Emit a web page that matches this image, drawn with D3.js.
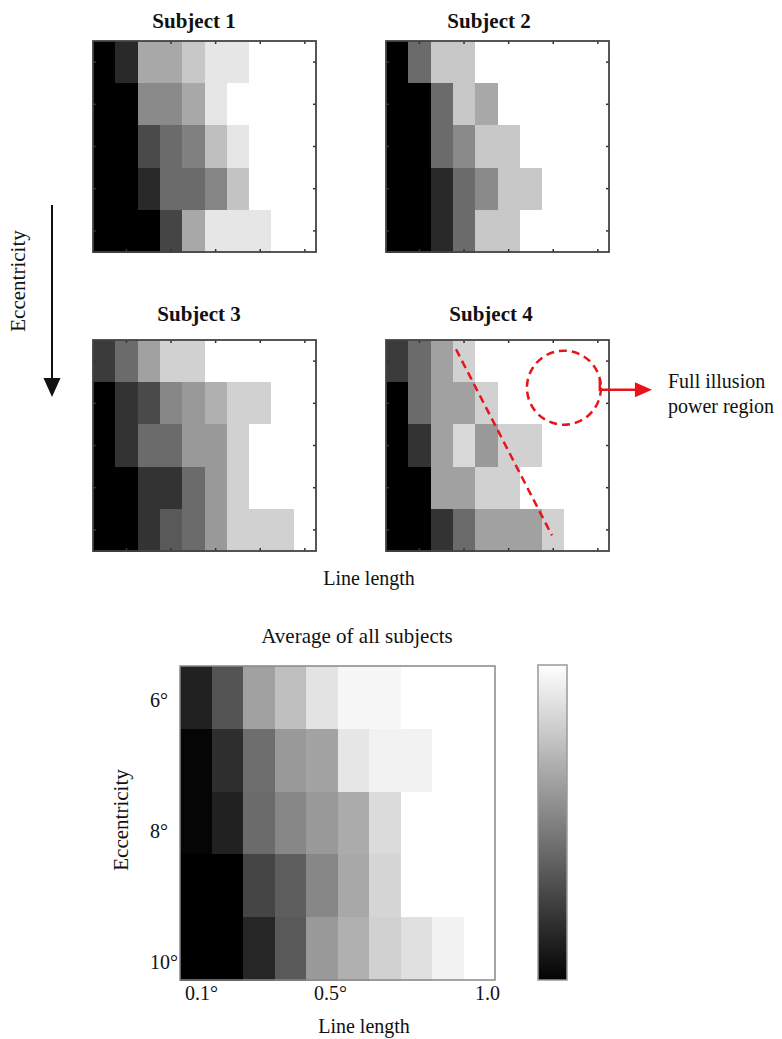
<!DOCTYPE html>
<html>
<head>
	<meta charset="utf-8">
	<script src="https://d3js.org/d3.v7.min.js"></script>
	<title>Illusion strength maps</title>
	<style>
		body { margin: 0; background: #fff; }
		text { font-family: "Liberation Serif", "Times New Roman", serif; fill: #111; }
	</style>
</head>
<body>
	<svg></svg>
	<script>
		const width = 782;
		const height = 1039;

		// grey level of each cell, 0 = black, 1 = white
		// rows = eccentricity (top to bottom), columns = line length
		const lineLengths = [0.1, 0.2, 0.3, 0.4, 0.5, 0.6, 0.7, 0.8, 0.9, 1.0];
		const eccentricities = [6, 7, 8, 9, 10];

		const subject1 = [
			[0, 0.16, 0.66, 0.66, 0.78, 0.9, 0.9, 1, 1, 1],
			[0, 0, 0.54, 0.54, 0.66, 0.9, 1, 1, 1, 1],
			[0, 0, 0.29, 0.42, 0.5, 0.75, 0.9, 1, 1, 1],
			[0, 0, 0.16, 0.42, 0.42, 0.52, 0.77, 1, 1, 1],
			[0, 0, 0, 0.27, 0.66, 0.9, 0.9, 0.9, 1, 1]
		];
		const subject2 = [
			[0, 0.42, 0.78, 0.78, 1, 1, 1, 1, 1, 1],
			[0, 0, 0.42, 0.78, 0.66, 1, 1, 1, 1, 1],
			[0, 0, 0.42, 0.54, 0.78, 0.78, 1, 1, 1, 1],
			[0, 0, 0.16, 0.42, 0.54, 0.78, 0.78, 1, 1, 1],
			[0, 0, 0.16, 0.42, 0.78, 0.78, 1, 1, 1, 1]
		];
		const subject3 = [
			[0.23, 0.42, 0.63, 0.82, 0.82, 1, 1, 1, 1, 1],
			[0, 0.2, 0.29, 0.53, 0.6, 0.69, 0.82, 0.82, 1, 1],
			[0, 0.2, 0.42, 0.42, 0.6, 0.6, 0.82, 1, 1, 1],
			[0, 0, 0.2, 0.2, 0.42, 0.6, 0.82, 1, 1, 1],
			[0, 0, 0.2, 0.35, 0.42, 0.6, 0.82, 0.82, 0.82, 1]
		];
		const subject4 = [
			[0.23, 0.42, 0.63, 0.82, 1, 1, 1, 1, 1, 1],
			[0, 0.42, 0.63, 0.63, 0.82, 1, 1, 1, 1, 1],
			[0, 0.2, 0.63, 0.85, 0.6, 0.82, 0.82, 1, 1, 1],
			[0, 0, 0.63, 0.63, 0.82, 0.82, 1, 1, 1, 1],
			[0, 0, 0.2, 0.42, 0.63, 0.63, 0.63, 0.82, 1, 1]
		];
		const averageAll = [
			[0.13, 0.33, 0.63, 0.75, 0.89, 0.97, 0.97, 1, 1, 1],
			[0.02, 0.18, 0.43, 0.6, 0.64, 0.9, 0.95, 0.95, 1, 1],
			[0.02, 0.13, 0.42, 0.53, 0.6, 0.67, 0.86, 1, 1, 1],
			[0, 0, 0.27, 0.37, 0.53, 0.66, 0.84, 1, 1, 1],
			[0, 0, 0.15, 0.35, 0.6, 0.69, 0.82, 0.88, 0.95, 1]
		];

		const subjectTitles = ["Subject 1", "Subject 2", "Subject 3", "Subject 4"];
		const subjectTickLengths = [0.2, 0.4, 0.6, 0.8, 1.0];
		const avgXTicks = [0.1, 0.5, 1.0];
		const avgXLabels = ["0.1°", "0.5°", "1.0"];
		const avgYTicks = [6, 8, 10];
		const avgYLabels = ["6°", "8°", "10°"];

		// dashed boundary + circle drawn on Subject 4 (line length / eccentricity units)
		const boundaryLine = [{len: 0.364, ecc: 5.72}, {len: 0.794, ecc: 10.13}];
		const fullPowerRegion = {len: 0.848, ecc: 6.63};

		const grey = d3.scaleLinear().domain([0, 1]).range(["#000", "#fff"]);

		const svg = d3.select("svg")
			.attr("width", width)
			.attr("height", height);

		const panelW = 223, panelH = 211;
		const panels = [
			{data: subject1, x: 93, y: 41, titleX: 194, titleY: 28},
			{data: subject2, x: 386, y: 41, titleX: 489, titleY: 28},
			{data: subject3, x: 93, y: 340, titleX: 199, titleY: 321},
			{data: subject4, x: 386, y: 340, titleX: 491, titleY: 321}
		];

		function drawCells(g, values, x, y) {
			const cells = values.flatMap((row, i) => row.map((v, j) => ({ecc: eccentricities[i], len: lineLengths[j], v})));
			g.append("g")
				.attr("shape-rendering", "crispEdges")
				.selectAll("rect")
				.data(cells)
				.join("rect")
				.attr("x", d => x(d.len))
				.attr("y", d => y(d.ecc))
				.attr("width", x.bandwidth() + 0.6)
				.attr("height", y.bandwidth() + 0.6)
				.attr("fill", d => grey(d.v));
		}

		panels.forEach((p, k) => {
			const g = svg.append("g");
			const x = d3.scaleBand().domain(lineLengths).range([p.x, p.x + panelW]);
			const y = d3.scaleBand().domain(eccentricities).range([p.y, p.y + panelH]);
			drawCells(g, p.data, x, y);

			const axes = [
				[d3.axisTop(x).tickValues(subjectTickLengths), `translate(0,${p.y})`],
				[d3.axisBottom(x).tickValues(subjectTickLengths), `translate(0,${p.y + panelH})`],
				[d3.axisLeft(y), `translate(${p.x},0)`],
				[d3.axisRight(y), `translate(${p.x + panelW},0)`]
			];
			axes.forEach(([ax, tr]) => {
				g.append("g")
					.attr("transform", tr)
					.call(ax.tickSizeInner(-3).tickSizeOuter(0).tickFormat(""))
					.call(s => s.select(".domain").remove())
					.selectAll("line").attr("stroke", "#333").attr("stroke-width", 1.5);
			});

			g.append("rect")
				.attr("x", p.x).attr("y", p.y)
				.attr("width", panelW).attr("height", panelH)
				.attr("fill", "none")
				.attr("stroke", "#444")
				.attr("stroke-width", 1.8);

			g.append("text")
				.attr("x", p.titleX).attr("y", p.titleY)
				.attr("text-anchor", "middle")
				.attr("font-weight", "bold")
				.attr("font-size", 21)
				.text(subjectTitles[k]);

			if (k === 3) {
				const xc = d3.scaleLinear().domain([0.05, 1.05]).range([p.x, p.x + panelW]);
				const yc = d3.scaleLinear().domain([5.5, 10.5]).range([p.y, p.y + panelH]);
				g.append("path")
					.attr("d", d3.line().x(d => xc(d.len)).y(d => yc(d.ecc))(boundaryLine))
					.attr("fill", "none")
					.attr("stroke", "#e8141c")
					.attr("stroke-width", 2.5)
					.attr("stroke-dasharray", "8,5");

				const cx = xc(fullPowerRegion.len), cy = yc(fullPowerRegion.ecc), r = 37;
				g.append("circle")
					.attr("cx", cx).attr("cy", cy).attr("r", r)
					.attr("fill", "none")
					.attr("stroke", "#e8141c")
					.attr("stroke-width", 2.5)
					.attr("stroke-dasharray", "8,5");

				// connector to the label
				const sx = cx + Math.sqrt(r * r - 81);
				g.append("path")
					.attr("d", `M${sx},${cy - 9}V${cy + 2}H${cx + 72}`)
					.attr("fill", "none")
					.attr("stroke", "#e8141c")
					.attr("stroke-width", 2.5);
				g.append("path")
					.attr("d", `M${cx + 71},${cy - 5.5}L${cx + 88},${cy + 2}L${cx + 71},${cy + 9.5}Z`)
					.attr("fill", "#e8141c");

				const lab = g.append("text")
					.attr("x", cx + 104).attr("y", cy)
					.attr("font-size", 20);
				lab.append("tspan").attr("x", cx + 104).text("Full illusion");
				lab.append("tspan").attr("x", cx + 104).attr("dy", 25).text("power region");
			}
		});

		// shared labels of the four subject maps
		svg.append("text")
			.attr("x", 369).attr("y", 585)
			.attr("text-anchor", "middle")
			.attr("font-size", 20)
			.text("Line length");

		svg.append("text")
			.attr("transform", "translate(25,281) rotate(-90)")
			.attr("text-anchor", "middle")
			.attr("font-size", 21)
			.text("Eccentricity");

		svg.append("line")
			.attr("x1", 52).attr("x2", 52)
			.attr("y1", 205).attr("y2", 380)
			.attr("stroke", "#111")
			.attr("stroke-width", 2);
		svg.append("path")
			.attr("d", "M43.5,378L60.5,378L52,397Z")
			.attr("fill", "#111");

		// average map
		const avg = {x: 180, y: 666, w: 315, h: 314};
		const ax = d3.scaleBand().domain(lineLengths).range([avg.x, avg.x + avg.w]);
		const ay = d3.scaleBand().domain(eccentricities).range([avg.y, avg.y + avg.h]);
		const ga = svg.append("g");
		drawCells(ga, averageAll, ax, ay);
		ga.append("rect")
			.attr("x", avg.x).attr("y", avg.y)
			.attr("width", avg.w).attr("height", avg.h)
			.attr("fill", "none")
			.attr("stroke", "#888")
			.attr("stroke-width", 1.5);

		ga.append("text")
			.attr("x", 357).attr("y", 643)
			.attr("text-anchor", "middle")
			.attr("font-size", 21)
			.text("Average of all subjects");

		const xLab = d3.scaleLinear().domain([0.1, 1.0]).range([avg.x + 5, avg.x + 295]);
		ga.selectAll(".xl")
			.data(avgXTicks)
			.join("text")
			.attr("class", "xl")
			.attr("x", d => xLab(d))
			.attr("y", avg.y + avg.h + 20)
			.attr("font-size", 20)
			.text((d, i) => avgXLabels[i]);

		const yLab = d3.scaleLinear().domain([6, 10]).range([avg.y + 41, avg.y + 303]);
		ga.selectAll(".yl")
			.data(avgYTicks)
			.join("text")
			.attr("class", "yl")
			.attr("x", 150)
			.attr("y", d => yLab(d))
			.attr("font-size", 20)
			.text((d, i) => avgYLabels[i]);

		ga.append("text")
			.attr("x", 364).attr("y", 1033)
			.attr("text-anchor", "middle")
			.attr("font-size", 20)
			.text("Line length");

		ga.append("text")
			.attr("transform", "translate(128,820) rotate(-90)")
			.attr("text-anchor", "middle")
			.attr("font-size", 21)
			.text("Eccentricity");

		// colour bar
		const grad = svg.append("defs").append("linearGradient")
			.attr("id", "bar")
			.attr("x1", 0).attr("x2", 0).attr("y1", 0).attr("y2", 1);
		grad.selectAll("stop")
			.data(d3.range(0, 1.0001, 0.1))
			.join("stop")
			.attr("offset", d => d)
			.attr("stop-color", d => grey(1 - d * 0.99));

		svg.append("rect")
			.attr("x", 538).attr("y", 665)
			.attr("width", 29).attr("height", 315)
			.attr("fill", "url(#bar)")
			.attr("stroke", "#999")
			.attr("stroke-width", 1.5);
	</script>
</body>
</html>
